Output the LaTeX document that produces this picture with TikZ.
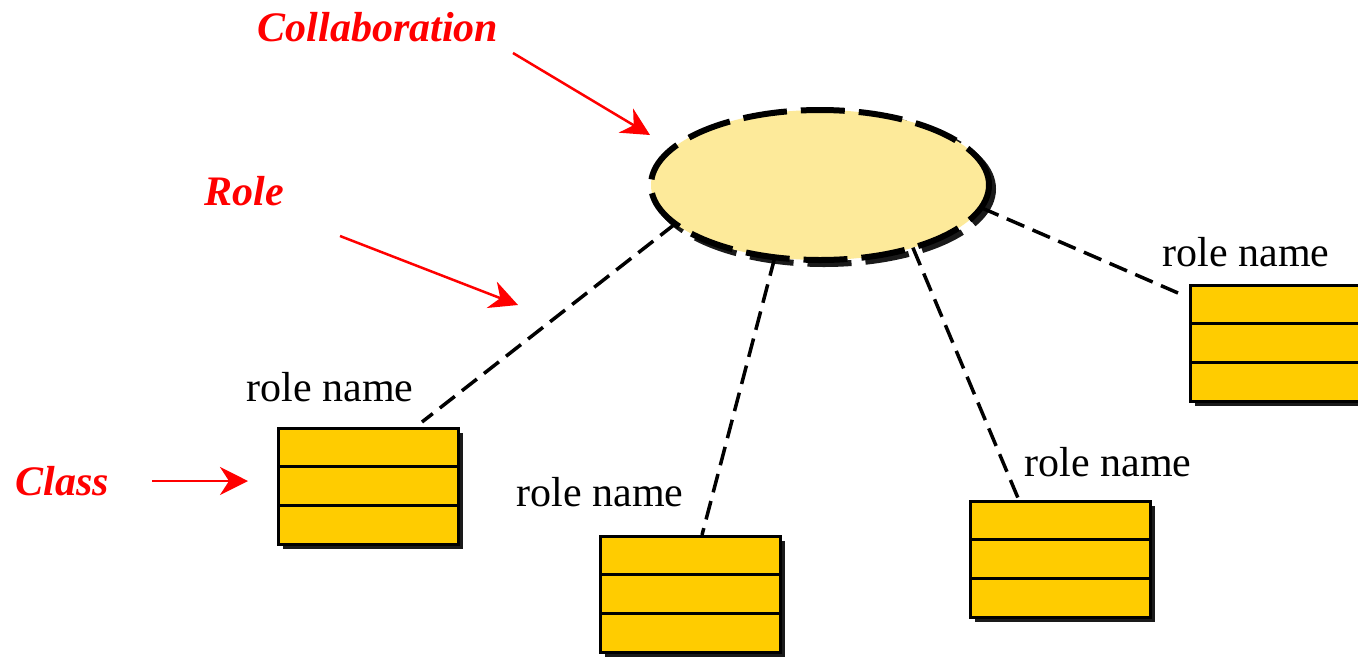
\documentclass[tikz,border=0pt]{standalone}
\usepackage{fontspec}
\setmainfont{Liberation Serif}
\usetikzlibrary{shapes.geometric,arrows.meta,calc}
\definecolor{collabfill}{HTML}{FDEA9A}
\definecolor{classfill}{HTML}{FFCC00}
\definecolor{shadowgray}{HTML}{1A1A1A}
\definecolor{notered}{HTML}{FF0000}
\tikzset{
  classbox/.style={draw=black, line width=3pt, fill=classfill,
    minimum width=180pt, minimum height=116pt, inner sep=0pt, outer sep=0pt},
  collabshape/.style={ellipse, line width=6pt, dash pattern=on 44pt off 14pt,
    minimum width=338pt, minimum height=150pt, inner sep=0pt, outer sep=0pt},
  rolelink/.style={draw=black, line width=3.5pt, dash pattern=on 19pt off 9pt},
  rolelabel/.style={font=\fontsize{42}{46}\selectfont, anchor=base, inner sep=0pt},
  notelabel/.style={font=\fontsize{42}{46}\selectfont\bfseries\itshape,
    text=notered, anchor=base, inner sep=0pt},
  notearrow/.style={draw=notered, line width=2.5pt,
    -{Stealth[length=28pt,width=28pt,inset=9pt]}},
}
% class symbol with three compartments and a drop shadow
% #1 name, #2 left edge, #3 top edge
\newcommand\umlclassbox[3]{%
  \fill[shadowgray] (#2+5,#3+5) rectangle (#2+185,#3+121);
  \node[classbox, anchor=north west] (#1) at (#2,#3) {};
  \draw[line width=3pt] ($(#1.north west)!1/3!(#1.south west)$) -- ($(#1.north east)!1/3!(#1.south east)$);
  \draw[line width=3pt] ($(#1.north west)!2/3!(#1.south west)$) -- ($(#1.north east)!2/3!(#1.south east)$);
}
\begin{document}
\begin{tikzpicture}[x=1pt, y=-1pt]
  \clip (0,0) rectangle (1358,657);
  \fill[white] (0,0) rectangle (1358,657);

  % collaboration
  \node[collabshape, draw=shadowgray] (collshadow) at (824,189) {};
  \node[collabshape, draw=black, fill=collabfill] (coll) at (820,185) {};

  % classes
  \umlclassbox{c1}{278}{428}
  \umlclassbox{c2}{600}{536}
  \umlclassbox{c3}{970}{501}
  \umlclassbox{c4}{1190}{285}

  % roles
  \draw[rolelink] (coll.195) -- ($(c1.north west)+(144,-6)$);
  \draw[rolelink] (coll.238) -- ($(c2.north west)+(102,-1)$);
  \draw[rolelink] (coll.326) -- ($(c3.north west)+(48,-3)$);
  \draw[rolelink] (coll.352) -- ($(c4.north west)+(-12,8)$);

  \node[rolelabel] (r1) at (330,401) {role name};
  \node[rolelabel] (r2) at (600,506) {role name};
  \node[rolelabel] (r3) at (1108,476) {role name};
  \node[rolelabel] (r4) at (1246,266) {role name};

  % annotations
  \node[notelabel] (lcoll) at (378,41) {Collaboration};
  \node[notelabel] (lrole) at (244,205) {Role};
  \node[notelabel] (lclass) at (62,495) {Class};

  \coordinate (collTail) at (513,53);
  \coordinate (collTip) at (650,135);
  \coordinate (roleTail) at (340,236);
  \coordinate (roleTip) at (518,305);
  \coordinate (classTail) at (152,481);
  \coordinate (classTip) at (248,481);
  \draw[notearrow] (collTail) -- (collTip);
  \draw[notearrow] (roleTail) -- (roleTip);
  \draw[notearrow] (classTail) -- (classTip);
\end{tikzpicture}
\end{document}
